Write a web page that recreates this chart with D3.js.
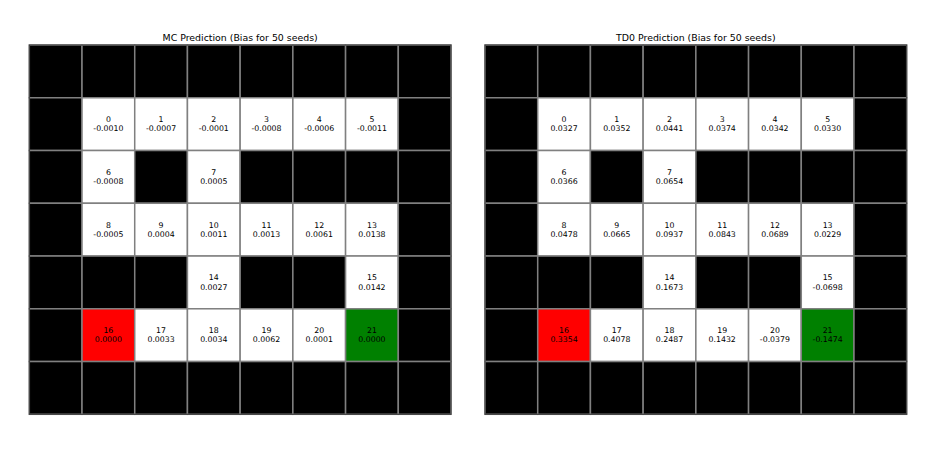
<!DOCTYPE html>
<html>
<head>
<meta charset="utf-8">
<script src="https://cdn.jsdelivr.net/npm/d3@7"></script>
<style>
  html, body { margin: 0; padding: 0; background: #fff; }
  svg { display: block; }
  text { font-family: "DejaVu Sans", sans-serif; }
</style>
</head>
<body>
<div id="chart"></div>
<script>
// Maze layout: '#' wall, '.' state, 'R' red terminal, 'G' green terminal
const layout = [
  "########",
  "#......#",
  "#.#.####",
  "#......#",
  "###.##.#",
  "#R....G#",
  "########"
];
const titles = ["MC Prediction (Bias for 50 seeds)", "TD0 Prediction (Bias for 50 seeds)"];
const mcBias = [-0.0010, -0.0007, -0.0001, -0.0008, -0.0006, -0.0011,
                -0.0008, 0.0005,
                -0.0005, 0.0004, 0.0011, 0.0013, 0.0061, 0.0138,
                0.0027, 0.0142,
                0.0000, 0.0033, 0.0034, 0.0062, 0.0001, 0.0000];
const td0Bias = [0.0327, 0.0352, 0.0441, 0.0374, 0.0342, 0.0330,
                 0.0366, 0.0654,
                 0.0478, 0.0665, 0.0937, 0.0843, 0.0689, 0.0229,
                 0.1673, -0.0698,
                 0.3354, 0.4078, 0.2487, 0.1432, -0.0379, -0.1474];
const seriesList = [mcBias, td0Bias];

const W = 938, H = 450;
const panels = [
  { x0: 29.3, x1: 451.0 },
  { x0: 485.0, x1: 906.7 }
];
const gridTop = 45.0, gridBottom = 414.3;

const nRows = layout.length, nCols = layout[0].length;

// Build cells from the layout
const cells = [];
let sid = 0;
layout.forEach((row, r) => {
  row.split("").forEach((ch, c) => {
    const cell = { r, c, type: ch, id: null };
    if (ch !== "#") { cell.id = sid++; }
    cells.push(cell);
  });
});

const fillFor = t => t === "#" ? "#000000" : t === "R" ? "#ff0000" : t === "G" ? "#008000" : "#ffffff";

const svg = d3.select("#chart").append("svg").attr("width", W).attr("height", H);

panels.forEach((p, i) => {
  const values = seriesList[i];
  const x = d3.scaleBand().domain(d3.range(nCols)).range([p.x0, p.x1]).padding(0);
  const y = d3.scaleBand().domain(d3.range(nRows)).range([gridTop, gridBottom]).padding(0);
  const g = svg.append("g");

  g.selectAll("rect.cell").data(cells).join("rect")
    .attr("class", "cell")
    .attr("x", d => x(d.c))
    .attr("y", d => y(d.r))
    .attr("width", x.bandwidth())
    .attr("height", y.bandwidth())
    .attr("fill", d => fillFor(d.type))
    .attr("stroke", "#808080")
    .attr("stroke-width", 1.5);

  g.append("rect")
    .attr("x", p.x0).attr("y", gridTop)
    .attr("width", p.x1 - p.x0).attr("height", gridBottom - gridTop)
    .attr("fill", "none").attr("stroke", "#3a3a3a").attr("stroke-width", 1);

  const labels = g.selectAll("text.lab").data(cells.filter(d => d.id !== null)).join("text")
    .attr("class", "lab")
    .attr("text-anchor", "middle")
    .attr("font-size", "7.8px")
    .attr("fill", "#000");
  labels.append("tspan")
    .attr("x", d => x(d.c) + x.bandwidth() / 2)
    .attr("y", d => y(d.r) + y.bandwidth() / 2 - 2.0)
    .text(d => d.id);
  labels.append("tspan")
    .attr("x", d => x(d.c) + x.bandwidth() / 2)
    .attr("y", d => y(d.r) + y.bandwidth() / 2 + 7.2)
    .text(d => values[d.id].toFixed(4));

  g.append("text")
    .attr("x", (p.x0 + p.x1) / 2)
    .attr("y", 41)
    .attr("text-anchor", "middle")
    .attr("font-size", "9.4px")
    .attr("fill", "#000")
    .text(titles[i]);
});
</script>
</body>
</html>
